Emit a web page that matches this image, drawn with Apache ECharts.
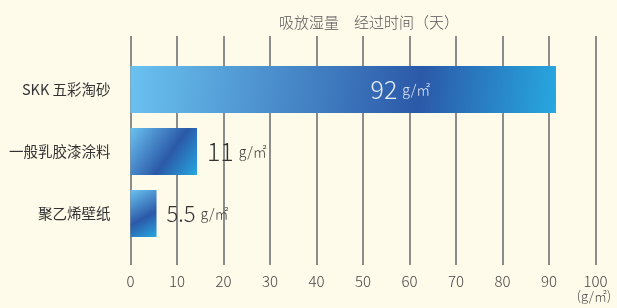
<!DOCTYPE html>
<html>
<head>
<meta charset="utf-8">
<script src="https://cdn.jsdelivr.net/npm/echarts@6/dist/echarts.min.js"></script>
<style>
  html, body { margin: 0; padding: 0; background: #fffbea; }
</style>
</head>
<body>
<div id="chart" style="width:617px;height:308px;"></div>
<script>
// categories top to bottom
var categories = ['SKK 五彩淘砂', '一般乳胶漆涂料', '聚乙烯壁纸'];
// bar lengths as drawn in the picture
var barValues = [91.5, 14.3, 5.6];
// printed values on the bars
var labelValues = ['92', '11', '5.5'];
var unit = 'g/㎡';
var xTicks = [0, 10, 20, 30, 40, 50, 60, 70, 80, 90, 100];

var font = '"Noto Sans CJK SC", "Noto Sans", sans-serif';

function grad(mid) {
    return new echarts.graphic.LinearGradient(0, 0, 1, 1, [
        { offset: 0, color: '#6ac2f0' },
        { offset: mid, color: '#2b59a8' },
        { offset: 1, color: '#27a8e0' }
    ]);
}

var barData = barValues.map(function (v, i) {
    var first = i === 0;
    return {
        value: v,
        itemStyle: { color: grad(first ? 0.68 : 0.58) },
        label: first ? {
            position: [240, '50%'],
            verticalAlign: 'middle',
            color: '#e6ecfa'
        } : {
            position: 'right',
            distance: 10,
            color: '#333'
        }
    };
});

var myChart = echarts.init(document.getElementById('chart'));
myChart.setOption({
    backgroundColor: '#fffbea',
    animation: false,
    title: [
        {
            text: '吸放湿量　经过时间（天）',
            left: 274,
            top: 10,
            textStyle: { fontFamily: font, fontSize: 15, fontWeight: 300, color: '#555' }
        },
        {
            text: '(' + unit + ')',
            right: 1,
            bottom: 0,
            textStyle: { fontFamily: font, fontSize: 13, fontWeight: 300, color: '#444' }
        }
    ],
    grid: [
        { left: 130.5, right: 21.5, top: 58.5, bottom: 63.5 },
        { left: 130.5, right: 21.5, top: 36, bottom: 43 }
    ],
    xAxis: [
        {
            gridIndex: 0, type: 'value', min: 0, max: 100, interval: 10,
            axisLine: { show: false }, axisTick: { show: false },
            axisLabel: { show: false }, splitLine: { show: false }
        },
        {
            gridIndex: 1, type: 'value', min: 0, max: 100, interval: 10,
            axisLine: { show: false }, axisTick: { show: false },
            axisLabel: {
                margin: 9, fontFamily: font, fontSize: 15, fontWeight: 300, color: '#444',
                formatter: function (v) { return xTicks.indexOf(v) >= 0 ? String(v) : ''; }
            },
            splitLine: { show: true, lineStyle: { color: '#8c8c8c', width: 2 } }
        }
    ],
    yAxis: [
        {
            gridIndex: 0, type: 'category', data: categories, inverse: true,
            axisLine: { show: false }, axisTick: { show: false },
            axisLabel: { margin: 20, fontFamily: font, fontSize: 14.5, color: '#333' }
        },
        {
            gridIndex: 1, type: 'value', show: false
        }
    ],
    series: [
        {
            type: 'bar',
            xAxisIndex: 0,
            yAxisIndex: 0,
            barWidth: 47,
            z: 3,
            data: barData,
            label: {
                show: true,
                fontFamily: font,
                formatter: function (p) {
                    var key = p.dataIndex === 2 ? 's' : 'v';
                    return '{' + key + '|' + labelValues[p.dataIndex] + '}{u|' + unit + '}';
                },
                rich: {
                    v: { fontFamily: font, fontSize: 25, fontWeight: 300 },
                    s: { fontFamily: font, fontSize: 22, fontWeight: 300 },
                    u: { fontFamily: font, fontSize: 14, fontWeight: 300, padding: [0, 0, 0, 5] }
                }
            }
        }
    ]
});
</script>
</body>
</html>
